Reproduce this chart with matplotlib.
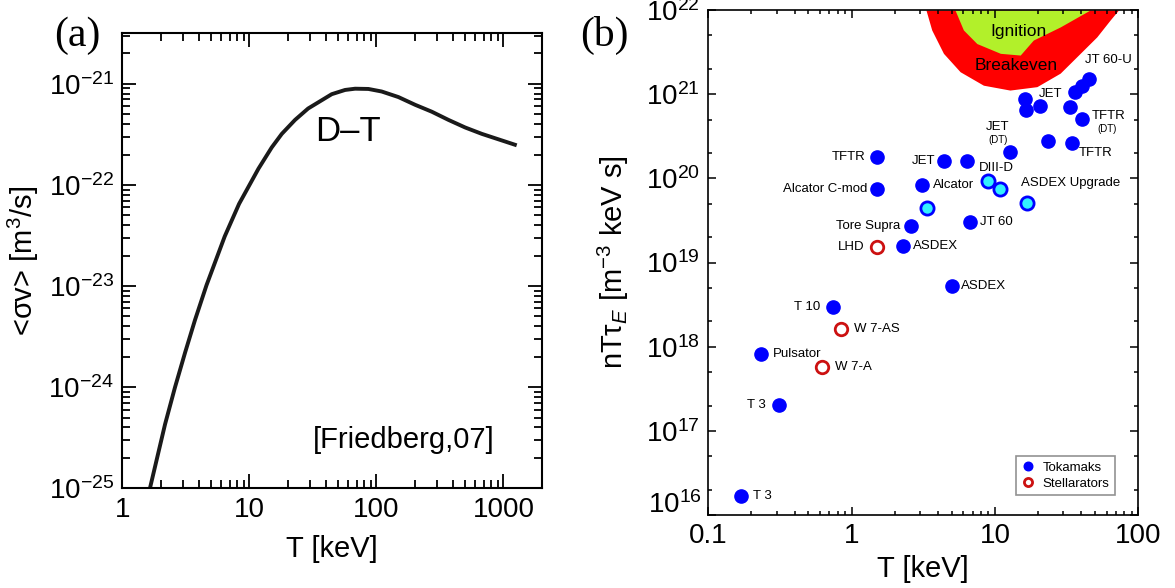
import math
import matplotlib
matplotlib.use('Agg')
import matplotlib.pyplot as plt
from matplotlib.ticker import LogLocator, FuncFormatter, NullFormatter, FixedLocator

plt.rcParams['font.family'] = ['Liberation Sans', 'DejaVu Sans']
plt.rcParams['mathtext.fontset'] = 'custom'
plt.rcParams['mathtext.rm'] = 'Liberation Sans'
plt.rcParams['mathtext.it'] = 'Liberation Sans:italic'
plt.rcParams['mathtext.bf'] = 'Liberation Sans:bold'

# (a) D-T reactivity
T_dt = [1.65, 2.17, 2.6, 3.12, 3.73, 4.6, 6.4, 8.3, 11.8, 15.0, 18, 22.9, 29, 44.5,
        56.7, 68, 86.5, 110, 149, 202, 273, 369, 500, 676, 1230]
sv_dt = [1e-25, 4.3e-25, 1.0e-24, 2.2e-24, 4.6e-24, 1.02e-23, 3.1e-23, 6.5e-23, 1.45e-22,
         2.35e-22, 3.2e-22, 4.4e-22, 5.7e-22, 7.9e-22, 8.7e-22, 8.95e-22, 8.9e-22, 8.4e-22,
         7.4e-22, 6.2e-22, 5.3e-22, 4.4e-22, 3.7e-22, 3.2e-22, 2.5e-22]
xticks_a = [1, 10, 100, 1000]
yticks_a = [1e-25, 1e-24, 1e-23, 1e-22, 1e-21]

# (b) Lawson diagram
tok_T = [1.51, 1.51, 4.43, 6.4, 3.08, 2.59, 2.27, 6.71, 5.01, 12.7, 23.4, 34.4, 16.2, 16.4,
         20.6, 33.6, 40.5, 36.4, 40.5, 45.6, 0.743, 0.232, 0.311, 0.17]
tok_ntt = [1.81e20, 7.4e19, 1.61e20, 1.63e20, 8.3e19, 2.7e19, 1.57e19, 3.0e19, 5.3e18,
           2.04e20, 2.78e20, 2.66e20, 8.7e20, 6.5e20, 7.2e20, 7.0e20, 5.1e20, 1.05e21,
           1.25e21, 1.51e21, 2.98e18, 8.2e17, 2.03e17, 1.7e16]
cyan_T = [3.33, 8.95, 10.9, 16.6]
cyan_ntt = [4.4e19, 9.3e19, 7.4e19, 5.1e19]
stel_T = [1.51, 0.84, 0.622]
stel_ntt = [1.54e19, 1.62e18, 5.7e17]
xticks_b = [0.1, 1, 10, 100]
yticks_b = [1e16, 1e17, 1e18, 1e19, 1e20, 1e21, 1e22]

breakeven_T = [3.3, 3.62, 4.37, 5.71, 8.3, 12.7, 19.6, 28.5, 39.3, 51.3, 63.5, 72.6]
breakeven_ntt = [1e22, 5.8e21, 3.06e21, 1.85e21, 1.28e21, 1.12e21, 1.23e21, 1.78e21,
                 3.06e21, 4.8e21, 7.6e21, 1e22]
ignition_T = [5.26, 6.02, 7.47, 10.9, 15.0, 18.5, 28.5, 46]
ignition_ntt = [1e22, 5.8e21, 4.0e21, 3.06e21, 2.92e21, 4.4e21, 6.3e21, 1e22]

# label, anchor point
labels = [('TFTR', 1.51, 1.81e20), ('Alcator C-mod', 1.51, 7.4e19), ('JET', 4.43, 1.61e20),
          ('Alcator', 3.08, 8.3e19), ('Tore Supra', 2.59, 2.7e19), ('LHD', 1.51, 1.54e19),
          ('ASDEX', 2.27, 1.57e19), ('JT 60', 6.71, 3.0e19), ('ASDEX', 5.01, 5.3e18),
          ('DIII-D', 8.95, 9.3e19), ('ASDEX Upgrade', 16.6, 5.1e19), ('JET', 12.7, 2.04e20),
          ('TFTR', 34.4, 2.66e20), ('TFTR', 40.5, 5.1e20), ('JET', 20.6, 7.2e20),
          ('JT 60-U', 45.6, 1.51e21), ('T 10', 0.743, 2.98e18), ('W 7-AS', 0.84, 1.62e18),
          ('Pulsator', 0.232, 8.2e17), ('W 7-A', 0.622, 5.7e17), ('T 3', 0.311, 2.03e17),
          ('T 3', 0.17, 1.7e16)]
# offsets in pixels (dx, dy up) and alignment
label_off = [(-12, 0, 'right'), (-10, 0, 'right'), (-9, 0, 'right'), (11, 0, 'left'),
             (-11, 0, 'right'), (-13, 0, 'right'), (10, 0, 'left'), (10, 0, 'left'),
             (9, 0, 'left'), (8, 13, 'center'), (-6, 20, 'left'), (-12, 25, 'center'),
             (7, -10, 'left'), (10, 3, 'left'), (-1, 12, 'left'), (-4, 19, 'left'),
             (-13, 0, 'right'), (13, 0, 'left'), (12, 0, 'left'), (13, 0, 'left'),
             (-13, 0, 'right'), (12, 0, 'left')]
dt_subs = [(11, -12, 12, 'center'), (13, 15, -10, 'left')]  # "(DT)" under a label

fig = plt.figure(figsize=(11.75, 5.88), dpi=100)
pt = 72 / 100.0


def sci(v, p):
    e = int(round(math.log10(v)))
    return '$10^{%d}$' % e


# ---- panel (a)
ax1 = fig.add_axes([0.1041, 0.1696, 0.3569, 0.7738])
ax1.plot(T_dt, sv_dt, color='#1a1a1a', lw=2.8, solid_joinstyle='round')
ax1.set_xscale('log')
ax1.set_yscale('log')
ax1.set_xlim(1, 2000)
ax1.set_ylim(1e-25, 10 ** -20.5)
ax1.xaxis.set_major_locator(FixedLocator(xticks_a))
ax1.xaxis.set_minor_locator(LogLocator(base=10, subs=range(2, 10), numticks=20))
ax1.yaxis.set_major_locator(FixedLocator(yticks_a))
ax1.yaxis.set_minor_locator(LogLocator(base=10, subs=range(2, 10), numticks=20))
ax1.xaxis.set_major_formatter(FuncFormatter(lambda v, p: '%g' % v))
ax1.yaxis.set_major_formatter(FuncFormatter(sci))
ax1.xaxis.set_minor_formatter(NullFormatter())
ax1.yaxis.set_minor_formatter(NullFormatter())
ax1.tick_params(which='both', direction='in', top=True, right=True, width=1.3, labelsize=20)
ax1.tick_params(which='major', length=10, pad=6)
ax1.tick_params(which='minor', length=5.5)
for s in ax1.spines.values():
    s.set_linewidth(1.5)
ax1.set_xlabel('T [keV]', fontsize=21, labelpad=9)
ax1.set_ylabel('<σv> [m$^3$/s]', fontsize=21)
ax1.yaxis.set_label_coords(-0.195, 0.5)
ax1.text(59.8, 3.4e-22, 'D\u2013T', fontsize=25, ha='center', va='center')
ax1.text(31.5, 3.0e-25, '[Friedberg,07]', fontsize=21, ha='left', va='center')
fig.text(0.066, 0.94, '(a)', fontsize=30, family='Liberation Serif', ha='center', va='center')

# ---- panel (b)
ax2 = fig.add_axes([0.6028, 0.1241, 0.366, 0.8588])
ax2.set_xscale('log')
ax2.set_yscale('log')
ax2.fill_between(breakeven_T, breakeven_ntt, 1e22, color='#ff0000', lw=0)
ax2.fill_between(ignition_T, ignition_ntt, 1e22, color='#b2f02a', lw=0)
ax2.text(14.5, 5.6e21, 'Ignition', fontsize=12.5, ha='center', va='center')
ax2.text(14.0, 2.2e21, 'Breakeven', fontsize=12.5, ha='center', va='center')

ax2.plot(tok_T, tok_ntt, 'o', color='#0000ff', ms=9.5, mec='#0000ff', label='Tokamaks')
ax2.plot(cyan_T, cyan_ntt, 'o', color='#33f0ff', ms=9.5, mec='#0000ff', mew=2)
ax2.plot(stel_T, stel_ntt, 'o', mfc='white', mec='#cc1111', ms=9, mew=2, label='Stellarators')

for (txt, x, y), (dx, dy, ha) in zip(labels, label_off):
    ax2.annotate(txt, (x, y), xytext=(dx * pt, dy * pt), textcoords='offset points',
                 ha=ha, va='center', fontsize=9.5)
for i, dx, dy, ha in dt_subs:
    ax2.annotate('(DT)', (labels[i][1], labels[i][2]), xytext=(dx * pt, dy * pt),
                 textcoords='offset points', ha=ha, va='center', fontsize=7)

ax2.set_xlim(0.1, 100)
ax2.set_ylim(1e16, 1e22)
ax2.xaxis.set_major_locator(FixedLocator(xticks_b))
ax2.xaxis.set_minor_locator(LogLocator(base=10, subs=range(2, 10), numticks=20))
ax2.yaxis.set_major_locator(FixedLocator(yticks_b))
ax2.yaxis.set_minor_locator(LogLocator(base=10, subs=[2, 5], numticks=20))
ax2.xaxis.set_major_formatter(FuncFormatter(lambda v, p: '%g' % v))
# lowest decade label is drawn a bit higher, like in the original
ax2.yaxis.set_major_formatter(FuncFormatter(lambda v, p: '' if v == yticks_b[0] else sci(v, p)))
ax2.xaxis.set_minor_formatter(NullFormatter())
ax2.yaxis.set_minor_formatter(NullFormatter())
ax2.tick_params(which='both', direction='in', top=True, right=True, width=1.1, labelsize=20)
ax2.tick_params(which='major', length=6, pad=6)
ax2.tick_params(which='minor', length=3)
for s in ax2.spines.values():
    s.set_linewidth(1.2)
ax2.annotate(sci(yticks_b[0], 0), (0, yticks_b[0]), xycoords=ax2.get_yaxis_transform(),
             xytext=(-6 * pt, 10 * pt), textcoords='offset points', ha='right', va='center',
             fontsize=20)
ax2.set_xlabel('T [keV]', fontsize=21, labelpad=4)
ax2.set_ylabel('nTτ$_E$ [m$^{-3}$ keV s]', fontsize=21)
ax2.yaxis.set_label_coords(-0.18, 0.5)
leg = ax2.legend(loc='lower right', bbox_to_anchor=(0.96, 0.026), fontsize=9.5,
                 markerscale=0.65, frameon=True, fancybox=False, handletextpad=0.6,
                 borderpad=0.4, labelspacing=0.3, handlelength=1.0)
leg.get_frame().set_edgecolor('#777777')
leg.get_frame().set_linewidth(1.2)
fig.text(0.514, 0.94, '(b)', fontsize=30, family='Liberation Serif', ha='center', va='center')

fig.savefig('out.png', dpi=100)
